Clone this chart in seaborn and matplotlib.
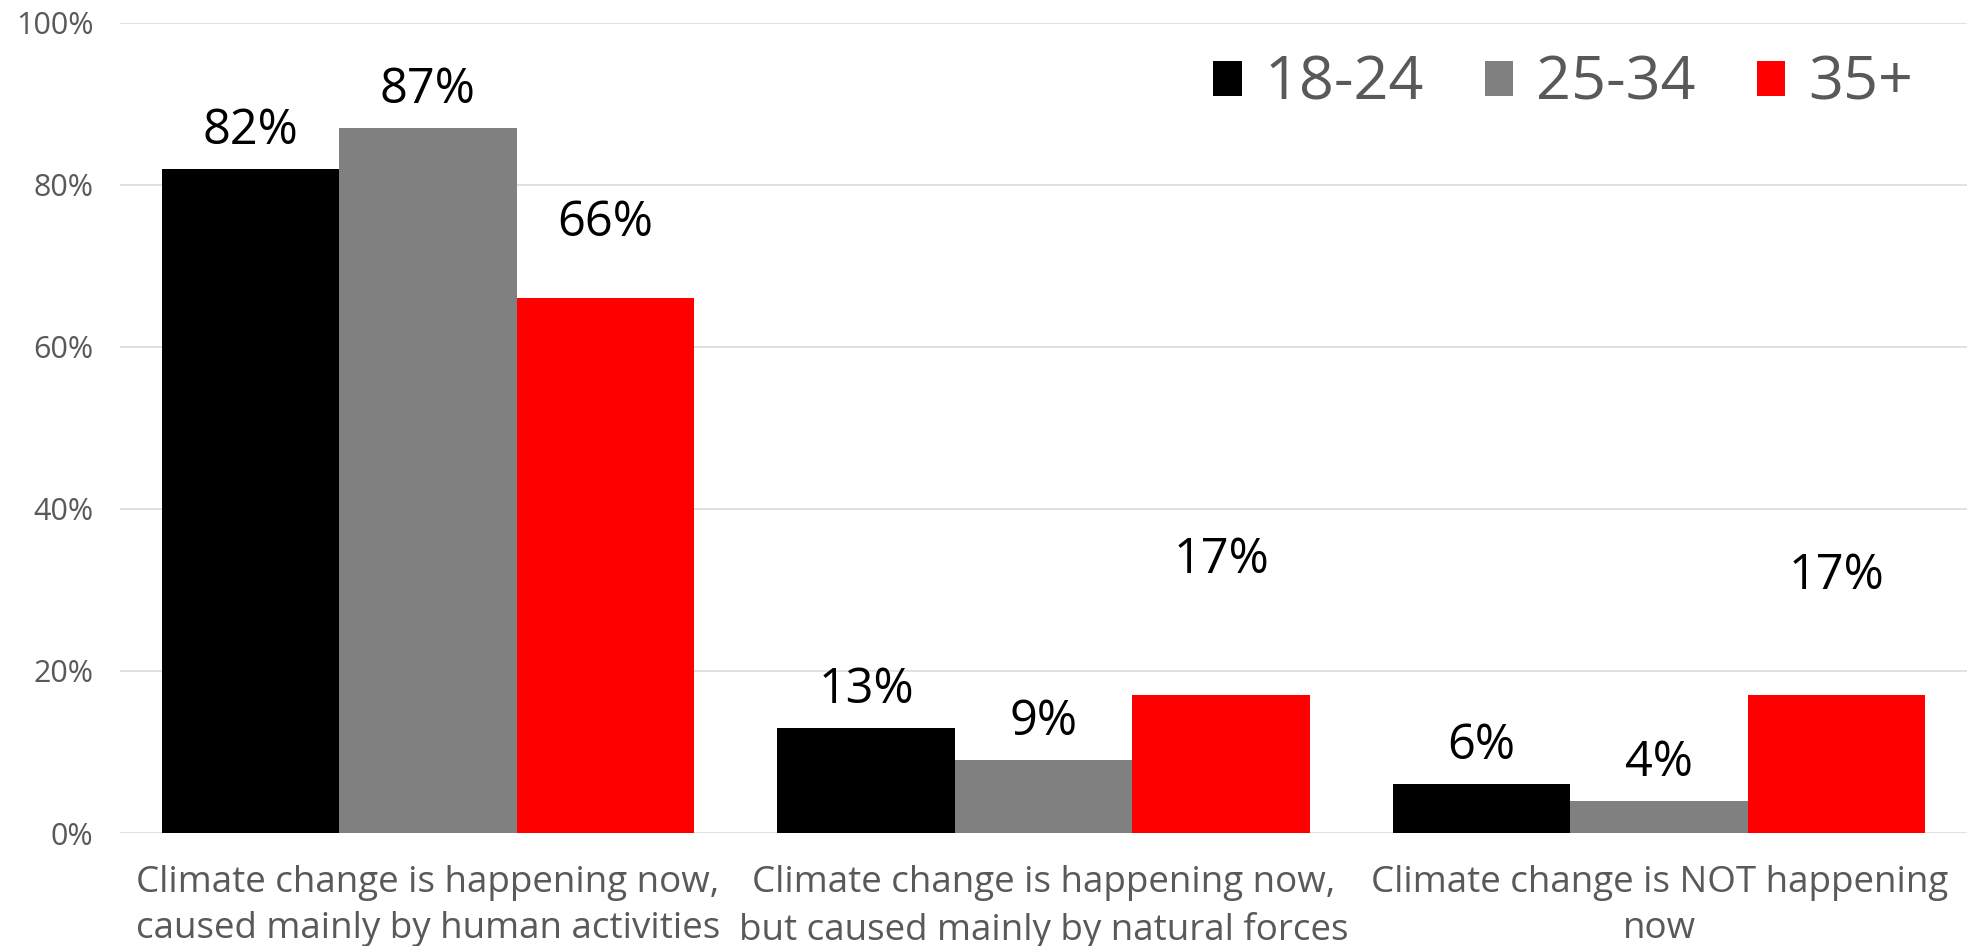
import matplotlib
matplotlib.use("Agg")
import matplotlib.pyplot as plt
import seaborn as sns
import pandas as pd
from matplotlib.ticker import FuncFormatter

categories = [
    "Climate change is happening now,\ncaused mainly by human activities",
    "Climate change is happening now,\nbut caused mainly by natural forces",
    "Climate change is NOT happening\nnow",
]
age_groups = ["18-24", "25-34", "35+"]
values_18_24 = [82, 13, 6]
values_25_34 = [87, 9, 4]
values_35_plus = [66, 17, 17]

colors = ["#000000", "#808080", "#FF0000"]
# extra vertical offset of value labels (percentage points), per age group then category
label_offsets = [[1.6, 1.6, 1.6], [1.6, 1.6, 1.6], [6.2, 13.6, 11.6]]

rows = []
for g, vals in zip(age_groups, [values_18_24, values_25_34, values_35_plus]):
    for c, v in zip(categories, vals):
        rows.append({"category": c, "age": g, "value": v})
df = pd.DataFrame(rows)

sns.set_theme(style="white")
plt.rcParams["font.family"] = ["Open Sans", "DejaVu Sans"]

fig = plt.figure(figsize=(19.67, 9.46), dpi=100)
ax = fig.add_axes([120 / 1967, 113 / 946, 1 - 120 / 1967, (833 - 23) / 946])

sns.barplot(data=df, x="category", y="value", hue="age", order=categories,
            hue_order=age_groups, palette=colors, width=0.865, saturation=1,
            linewidth=0, ax=ax)

ax.set_ylim(0, 100)
ax.set_xlim(-0.5, 2.5)
ax.set_yticks([0, 20, 40, 60, 80, 100])
ax.yaxis.set_major_formatter(FuncFormatter(lambda v, p: f"{v:.0f}%"))
ax.grid(axis="y", color="#d9d9d9", linewidth=1.1)
ax.set_axisbelow(True)
for s in ax.spines.values():
    s.set_visible(False)
ax.tick_params(axis="y", length=0, pad=19, labelsize=22, labelcolor="#595959")
ax.tick_params(axis="x", length=0, pad=23, labelsize=26.5, labelcolor="#595959")
for lbl in ax.get_xticklabels():
    lbl.set_linespacing(1.38)
ax.set_xlabel("")
ax.set_ylabel("")

for gi, cont in enumerate(ax.containers):
    for ci, bar in enumerate(cont):
        h = bar.get_height()
        ax.text(bar.get_x() + bar.get_width() / 2, h + label_offsets[gi][ci],
                f"{h:.0f}%", ha="center", va="bottom", fontsize=35, color="#000000")

handles, labels = ax.get_legend_handles_labels()
ax.legend(handles, labels, loc="center right",
          bbox_to_anchor=(1913 / 1967, 1 - 84 / 946), bbox_transform=fig.transFigure,
          ncol=3, frameon=False, fontsize=44, handlelength=0.47, handleheight=0.5,
          handletextpad=0.37, columnspacing=1.0, labelcolor="#595959",
          borderaxespad=0, borderpad=0)

fig.savefig("out.png", dpi=100)
